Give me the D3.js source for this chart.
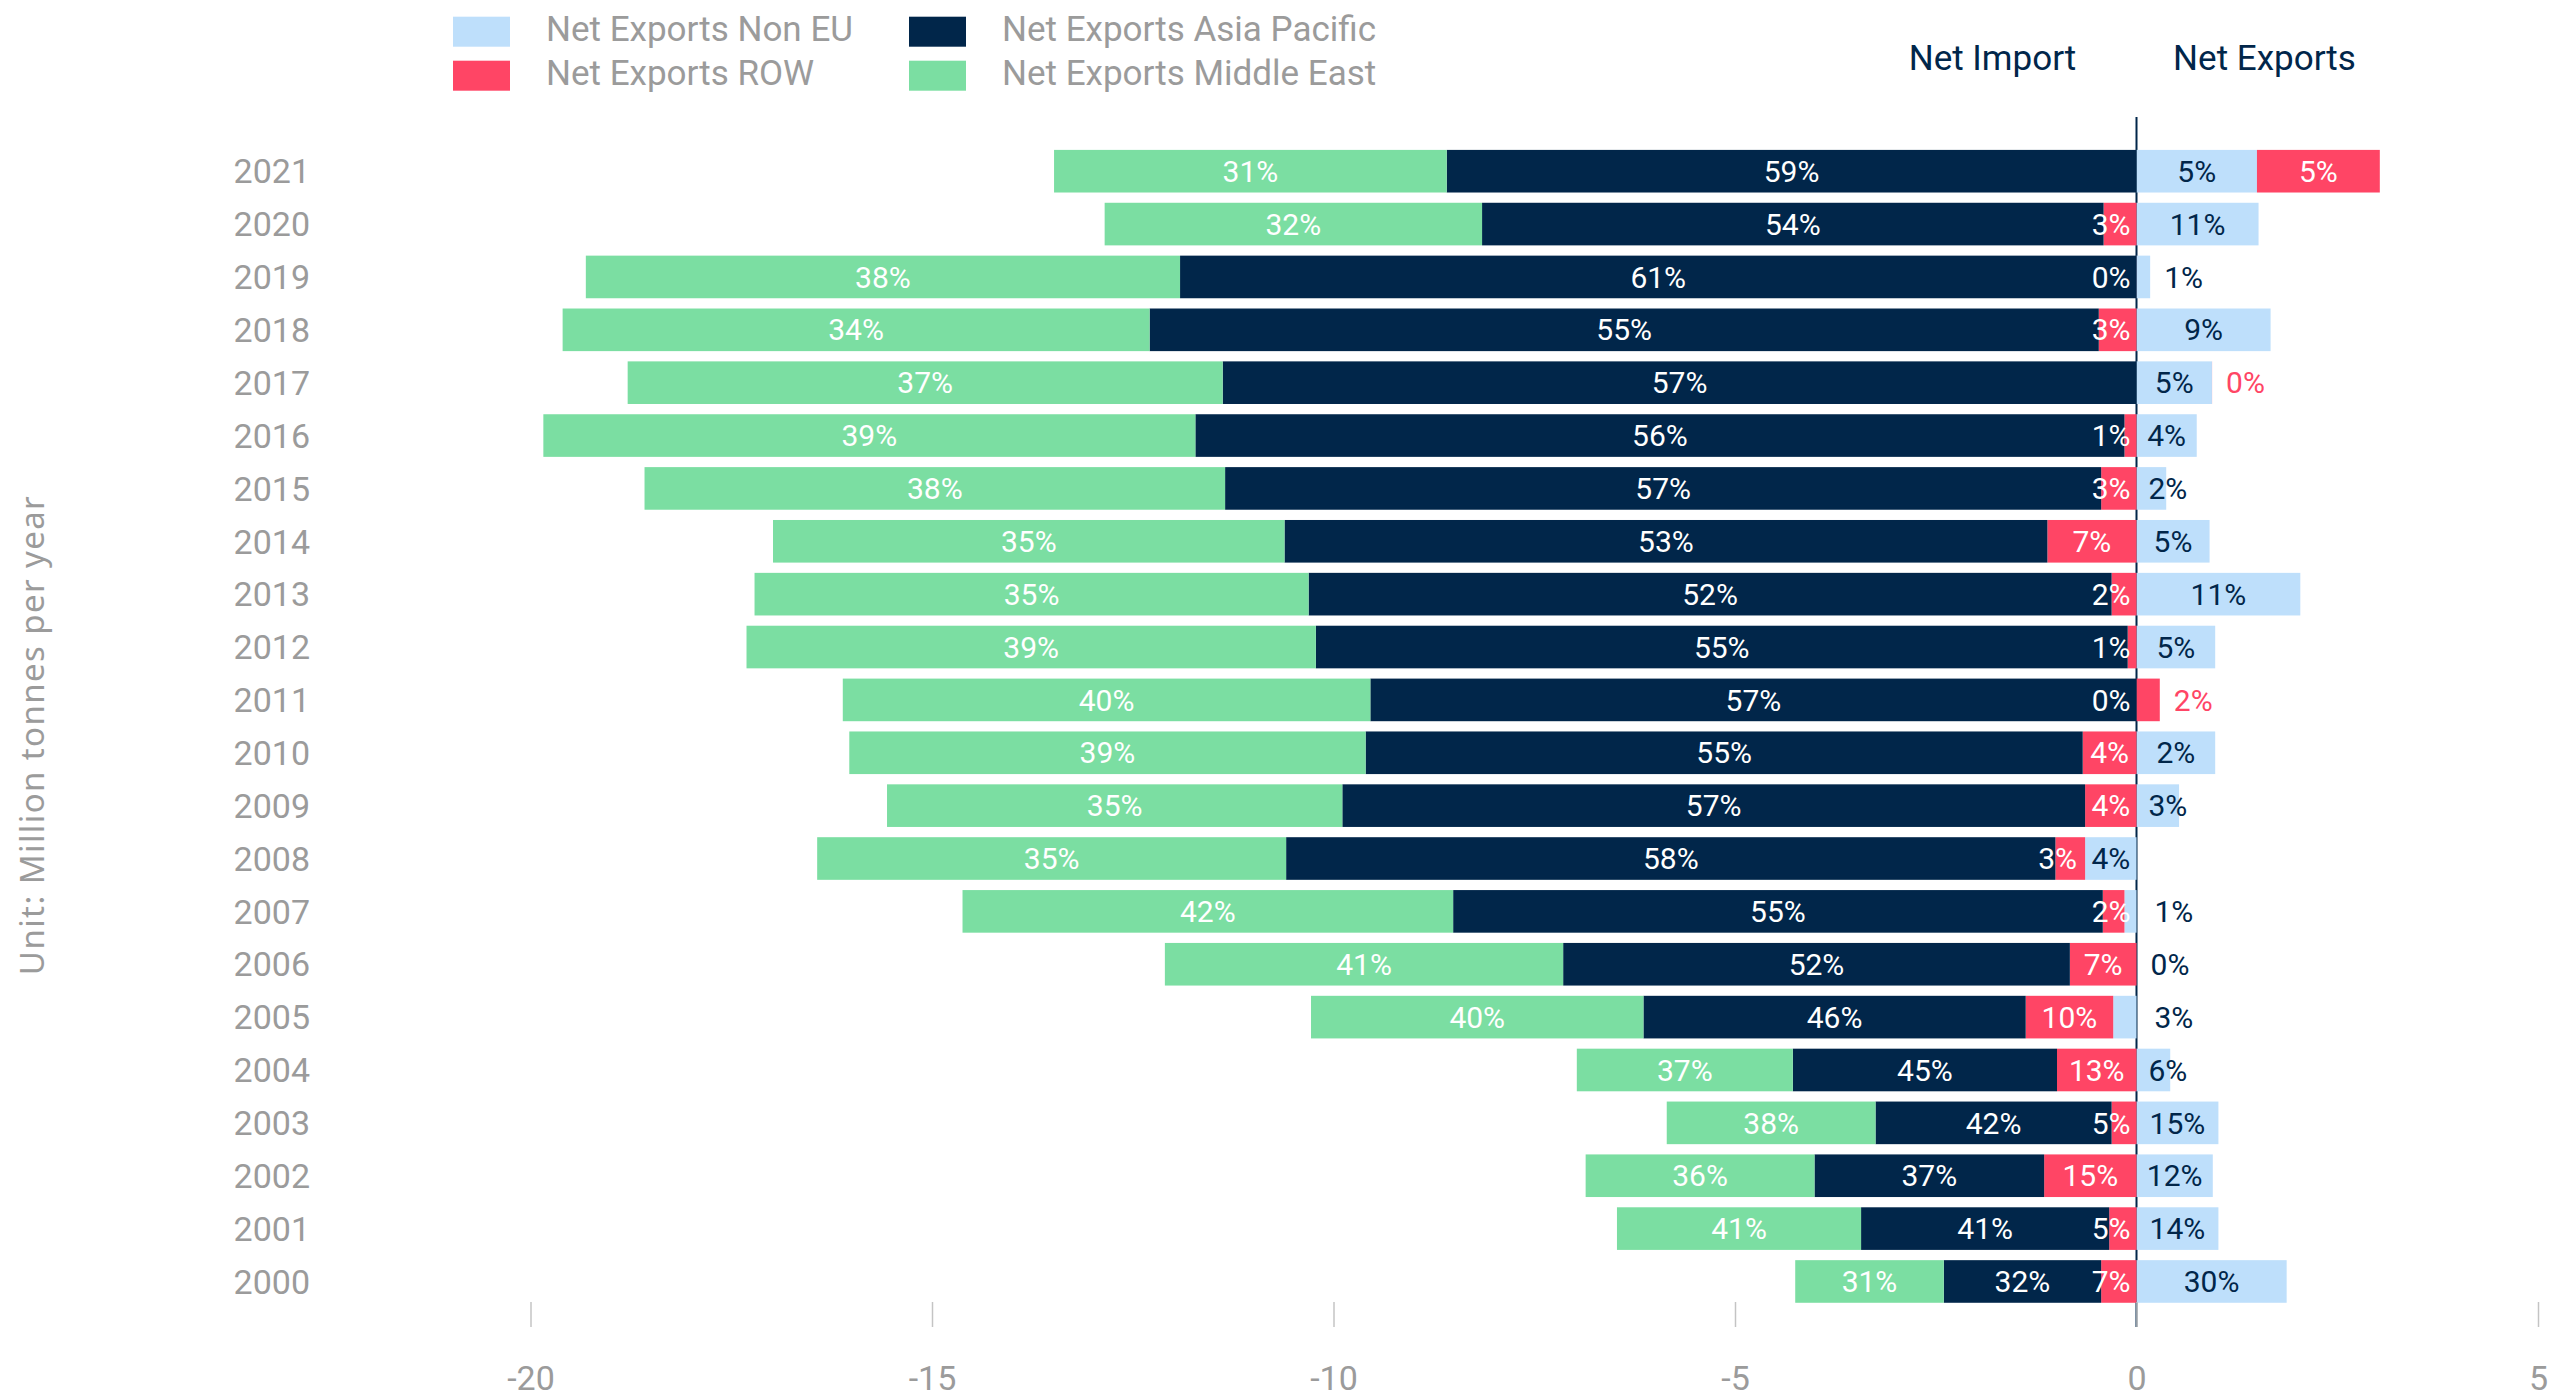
<!DOCTYPE html>
<html>
<head>
<meta charset="utf-8">
<script src="https://cdn.jsdelivr.net/npm/d3@7"></script>
<style>
  html, body { margin: 0; padding: 0; background: #ffffff; overflow: hidden; }
  svg { display: block; }
  text { font-family: Roboto, "Noto Sans", sans-serif; }
</style>
</head>
<body>
<svg id="chart" width="2572" height="1398"></svg>
<script>
// ---------------- DATA (million tonnes per year; 2021 -> 2000) ----------------
const years = [2021, 2020, 2019, 2018, 2017, 2016, 2015, 2014, 2013, 2012, 2011,
               2010, 2009, 2008, 2007, 2006, 2005, 2004, 2003, 2002, 2001, 2000];

const netExportsNonEU = [1.50, 1.52, 0.17, 1.67, 0.94, 0.75, 0.37, 0.91, 2.04, 0.98, -0.001,
                         0.98, 0.53, -0.64, -0.15, 0.001, -0.29, 0.42, 1.02, 0.95, 1.02, 1.87];
const netExportsROW = [1.53, -0.41, -0.001, -0.47, 0.001, -0.15, -0.44, -1.11, -0.31, -0.11, 0.29,
                       -0.67, -0.64, -0.37, -0.27, -0.83, -1.09, -0.99, -0.31, -1.15, -0.34, -0.44];
const netExportsAsiaPacific = [-8.59, -7.74, -11.91, -11.82, -11.38, -11.57, -10.91, -9.50, -10.00, -10.11, -9.54,
                               -8.93, -9.25, -9.58, -8.09, -6.31, -4.76, -3.29, -2.94, -2.86, -3.09, -1.96];
const netExportsMiddleEast = [-4.89, -4.70, -7.40, -7.31, -7.41, -8.12, -7.23, -6.37, -6.90, -7.09, -6.57,
                              -6.43, -5.67, -5.84, -6.11, -4.96, -4.14, -2.69, -2.60, -2.85, -3.04, -1.85];

// shares shown as labels (%)
const shareNonEU = [5, 11, 1, 9, 5, 4, 2, 5, 11, 5, 0, 2, 3, 4, 1, 0, 3, 6, 15, 12, 14, 30];
const shareROW = [5, 3, 0, 3, 0, 1, 3, 7, 2, 1, 2, 4, 4, 3, 2, 7, 10, 13, 5, 15, 5, 7];
const shareAsiaPacific = [59, 54, 61, 55, 57, 56, 57, 53, 52, 55, 57, 55, 57, 58, 55, 52, 46, 45, 42, 37, 41, 32];
const shareMiddleEast = [31, 32, 38, 34, 37, 39, 38, 35, 35, 39, 40, 39, 35, 35, 42, 41, 40, 37, 38, 36, 41, 31];

const xTicks = [-20, -15, -10, -5, 0, 5];
const seriesKeys = ["nonEU", "row", "ap", "me"];
const seriesNames = ["Net Exports Non EU", "Net Exports ROW", "Net Exports Asia Pacific", "Net Exports Middle East"];
const legendOrder = ["nonEU", "ap", "row", "me"];
const headerLabels = ["Net Import", "Net Exports"];
const axisTitle = "Unit: Million tonnes per year";

// ---------------- STYLE ----------------
const NAVY = "#01264A";
const colors = { nonEU: "#BEDFFB", row: "#FF4565", ap: NAVY, me: "#7BDEA2" };
const GRAY = "#9b9b9b";

// ---------------- BUILD ----------------
const svg = d3.select("#chart");

const rows = years.map((yr, i) => ({
  year: yr,
  nonEU: netExportsNonEU[i], row: netExportsROW[i], ap: netExportsAsiaPacific[i], me: netExportsMiddleEast[i]
}));
const shares = { nonEU: shareNonEU, row: shareROW, ap: shareAsiaPacific, me: shareMiddleEast };

const stacked = d3.stack().keys(seriesKeys).offset(d3.stackOffsetDiverging)(rows);

const x = d3.scaleLinear().domain([-20, 5]).range([530.5, 2538]);
const y = d3.scaleBand().domain(years).range([144.77, 1307.9]).paddingInner(0.194).paddingOuter(0.097);
const zeroX = x(0);

// zero line (behind bars)
svg.append("line")
  .attr("x1", zeroX).attr("x2", zeroX)
  .attr("y1", 117).attr("y2", 1327)
  .attr("stroke", NAVY).attr("stroke-width", 2);

// bars
const barG = svg.append("g");
stacked.forEach(s => {
  barG.append("g").attr("fill", colors[s.key])
    .selectAll("rect").data(s).join("rect")
    .attr("x", d => x(d[0]))
    .attr("width", d => Math.max(0, x(d[1]) - x(d[0])))
    .attr("y", d => y(d.data.year))
    .attr("height", y.bandwidth());
});

// x axis
const xAxis = svg.append("g").attr("transform", "translate(0,1302)")
  .call(d3.axisBottom(x).tickValues(xTicks).tickSize(25).tickPadding(39).tickFormat(d => String(d)));
xAxis.select(".domain").remove();
xAxis.selectAll(".tick line").attr("stroke", "#c4c4c4").attr("stroke-width", 1.5);
xAxis.selectAll(".tick text").attr("fill", GRAY).style("font-size", "34px").style("font-family", "Roboto, sans-serif");

// y axis (years)
const yAxis = svg.append("g").attr("transform", "translate(310,0)")
  .call(d3.axisLeft(y).tickSize(0).tickPadding(0));
yAxis.select(".domain").remove();
yAxis.selectAll(".tick text").attr("fill", GRAY).attr("dy", "0.36em")
  .style("font-size", "34px").style("font-family", "Roboto, sans-serif");

// value labels
const labelG = svg.append("g").style("font-size", "30px");
years.forEach((yr, i) => {
  const cy = y(yr) + y.bandwidth() / 2;
  const segs = {};
  stacked.forEach(s => {
    const d = s[i];
    segs[s.key] = { x0: x(d[0]), x1: x(d[1]), v: d.data[s.key], pct: shares[s.key][i] };
  });
  const posEnd = x(Math.max(0, d3.max(stacked, s => s[i][1])));
  const inside = {};
  seriesKeys.forEach(key => {
    const sg = segs[key];
    const t = labelG.append("text").attr("y", cy).attr("dy", "0.355em").text(sg.pct + "%");
    const tw = t.node().getComputedTextLength();
    const w = sg.x1 - sg.x0;
    let xPos, anchor = "middle", fill = key === "nonEU" ? NAVY : "#ffffff";
    inside[key] = false;
    if (w >= tw + 6) {
      xPos = (sg.x0 + sg.x1) / 2; inside[key] = true;
    } else if (sg.v > 0) {
      if (key === "nonEU" && w >= 20) { xPos = sg.x0 + 12; anchor = "start"; }
      else { xPos = posEnd + 14; anchor = "start"; fill = key === "row" ? colors.row : NAVY; }
    } else {
      if (key === "nonEU" && segs.row.v < 0) { xPos = zeroX + 18; anchor = "start"; fill = NAVY; }
      else {
        const limit = (key === "row" && segs.nonEU.v < 0 && inside.nonEU) ? sg.x1 - 8 : zeroX - 6;
        xPos = Math.min((sg.x0 + sg.x1) / 2 + tw / 2, limit); anchor = "end"; fill = "#ffffff";
      }
    }
    t.attr("x", xPos).attr("text-anchor", anchor).attr("fill", fill);
  });
});

// headers
svg.append("text").attr("x", zeroX - 144).attr("y", 70).attr("text-anchor", "middle")
  .attr("fill", NAVY).style("font-size", "35px").text(headerLabels[0]);
svg.append("text").attr("x", zeroX + 128).attr("y", 70).attr("text-anchor", "middle")
  .attr("fill", NAVY).style("font-size", "35px").text(headerLabels[1]);

// legend
const legG = svg.append("g");
legendOrder.forEach((key, j) => {
  const col = j % 2, row = Math.floor(j / 2);
  const lx = [453, 909][col], ly = [16.7, 60.7][row];
  legG.append("rect").attr("x", lx).attr("y", ly).attr("width", 57).attr("height", 30).attr("fill", colors[key]);
  legG.append("text").attr("x", lx + 93).attr("y", ly + 24.5).attr("fill", GRAY)
    .style("font-size", "35px").text(seriesNames[seriesKeys.indexOf(key)]);
});

// axis title
svg.append("text").attr("transform", "translate(44,735) rotate(-90)")
  .attr("text-anchor", "middle").attr("fill", GRAY)
  .style("font-family", "'Noto Sans', 'Open Sans', sans-serif").style("font-size", "33px")
  .style("letter-spacing", "1.4px").text(axisTitle);
</script>
</body>
</html>
